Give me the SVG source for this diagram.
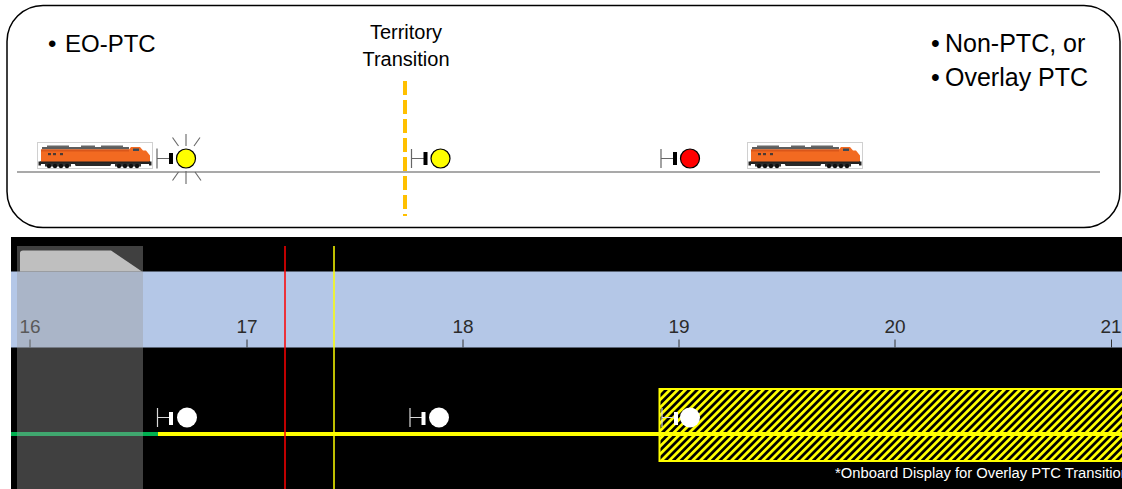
<svg xmlns="http://www.w3.org/2000/svg" xmlns:xlink="http://www.w3.org/1999/xlink" width="1122" height="489" viewBox="0 0 1122 489">
  <style>
    .lbl { font-family: "Liberation Sans", Arial, sans-serif; fill: #000; }
    .big { font-size: 24px; }
    .big2 { font-size: 25px; }
    .mid { font-size: 20px; }
    .axis { font-family: "Liberation Sans", Arial, sans-serif; font-size: 19px; fill: #2b2b2b; text-anchor: middle; }
    .tick { stroke: #333; stroke-width: 1; }
    .stem { stroke: #666; stroke-width: 1.2; fill: none; }
    .stem-w { stroke: #d8d8d8; stroke-width: 1.2; fill: none; }
    .ray { stroke: #666; stroke-width: 1.1; }
  </style>
  <defs>
    <!-- diesel locomotive side view, 116 x 27 -->
    <g id="loco">
      <rect x="0.5" y="0.5" width="115" height="26" fill="#fff" stroke="#d0d0d0"/>
      <rect x="10" y="3.5" width="22" height="2" fill="#666"/>
      <rect x="44" y="3.5" width="14" height="2" fill="#666"/>
      <rect x="64" y="3.5" width="22" height="2" fill="#666"/>
      <path d="M5 5 H92 V7.5 H5Z" fill="#5e5e5e"/>
      <path d="M4 7.5 H92 L94 5 H103 L106 8.5 H109 L113 13.5 V20 H4Z" fill="#F26A21"/>
      <path d="M4 7.5 H92 V9.5 H4Z" fill="#d9561a"/>
      <rect x="11" y="11" width="3" height="2.2" fill="#4a3a35"/>
      <rect x="16" y="11" width="3" height="2.2" fill="#4a3a35"/>
      <rect x="23" y="11" width="3" height="2.2" fill="#4a3a35"/>
      <rect x="96" y="6.5" width="6" height="2.5" fill="#3f4a55"/>
      <rect x="3" y="19.5" width="110" height="2.5" fill="#222"/>
      <rect x="38" y="21" width="36" height="3" rx="1.5" fill="#2a2a2a"/>
      <rect x="8" y="21.5" width="26" height="3" fill="#333"/>
      <rect x="78" y="21.5" width="26" height="3" fill="#333"/>
      <g fill="#111">
        <circle cx="12" cy="24" r="2.2"/><circle cx="18" cy="24" r="2.2"/>
        <circle cx="24" cy="24" r="2.2"/><circle cx="30" cy="24" r="2.2"/>
        <circle cx="82" cy="24" r="2.2"/><circle cx="88" cy="24" r="2.2"/>
        <circle cx="94" cy="24" r="2.2"/><circle cx="100" cy="24" r="2.2"/>
      </g>
      <rect x="1.5" y="19.5" width="2.5" height="4" fill="#222"/>
      <rect x="112" y="19.5" width="2.5" height="4" fill="#222"/>
    </g>
    <pattern id="hatch" width="5.5" height="5.5" patternUnits="userSpaceOnUse" patternTransform="rotate(45)">
      <rect width="5.5" height="5.5" fill="#000"/>
      <rect width="2.8" height="5.5" fill="#FFFF00"/>
    </pattern>
  </defs>

  <!-- upper panel: track overview -->
  <g id="overview">
    <rect x="7" y="5.5" width="1113" height="222" rx="36" ry="36" fill="#fff" stroke="#000" stroke-width="1.5"/>
    <line x1="17" y1="172" x2="1100" y2="172" stroke="#8c8c8c" stroke-width="1.5"/>
  </g>

  <g id="label-eo">
    <text class="lbl big" x="48" y="52">•</text>
    <text class="lbl big" x="65" y="52">EO-PTC</text>
  </g>
  <g id="label-non">
    <text class="lbl big2" x="931" y="52">•</text>
    <text class="lbl big2" x="945" y="52">Non-PTC, or</text>
    <text class="lbl big2" x="931" y="86">•</text>
    <text class="lbl big2" x="945" y="86">Overlay PTC</text>
  </g>
  <g id="transition">
    <text class="lbl mid" x="406" y="39" text-anchor="middle">Territory</text>
    <text class="lbl mid" x="406" y="66" text-anchor="middle">Transition</text>
    <line x1="405" y1="81" x2="405" y2="216" stroke="#FFC000" stroke-width="4" stroke-dasharray="14 5"/>
  </g>

  <g id="train-left"><use xlink:href="#loco" x="37" y="142"/></g>
  <g id="train-right"><use xlink:href="#loco" x="747" y="142"/></g>

  <g id="signal-1">
    <g class="ray">
      <line x1="186" y1="134" x2="186" y2="146"/>
      <line x1="186" y1="171" x2="186" y2="184"/>
      <line x1="172.5" y1="137.5" x2="178.5" y2="146"/>
      <line x1="200" y1="137.5" x2="194" y2="146"/>
      <line x1="172.5" y1="180.5" x2="178.5" y2="172"/>
      <line x1="201" y1="180.5" x2="195" y2="172"/>
    </g>
    <path class="stem" d="M157 148.5 V168.5 M157 158.5 H170"/>
    <rect x="169" y="153" width="4" height="11" fill="#000"/>
    <circle cx="186" cy="158.5" r="9.5" fill="#FFFF00" stroke="#000" stroke-width="1.2"/>
  </g>
  <g id="signal-2">
    <path class="stem" d="M411.5 149 V168 M411.5 158.5 H424.5"/>
    <rect x="423.5" y="152" width="4" height="13" fill="#000"/>
    <circle cx="440.5" cy="158.5" r="9.5" fill="#FFFF00" stroke="#000" stroke-width="1.2"/>
  </g>
  <g id="signal-3">
    <path class="stem" d="M661 149 V168 M661 158.5 H674"/>
    <rect x="673" y="152" width="4" height="13" fill="#000"/>
    <circle cx="690" cy="158.5" r="9.5" fill="#FF0000" stroke="#000" stroke-width="1.2"/>
  </g>

  <!-- lower panel: onboard display -->
  <g id="display">
    <rect x="11" y="237" width="1111" height="252" fill="#000"/>
    <rect x="11" y="271.5" width="1111" height="76" fill="#B4C7E7"/>
    <g id="axis">
      <text class="axis" x="30" y="333">16</text>
      <text class="axis" x="247" y="333">17</text>
      <text class="axis" x="463" y="333">18</text>
      <text class="axis" x="679" y="333">19</text>
      <text class="axis" x="895" y="333">20</text>
      <text class="axis" x="1111" y="333">21</text>
      <path class="tick" d="M30 339.5 V347.5 M247 339.5 V347.5 M463 339.5 V347.5 M679 339.5 V347.5 M895 339.5 V347.5 M1111.5 339.5 V347.5"/>
    </g>
    <rect id="overlay-zone" x="659.5" y="389" width="470" height="72" fill="url(#hatch)" stroke="#FFFF00" stroke-width="2"/>
  </g>

  <g id="connectors">
    <line x1="11" y1="434" x2="159" y2="434" stroke="#00B050" stroke-width="4"/>
    <line x1="158" y1="434" x2="1122" y2="434" stroke="#FFFF00" stroke-width="4"/>
    <line x1="285" y1="246" x2="285" y2="489" stroke="#FF0000" stroke-width="1.5"/>
    <line x1="334" y1="246" x2="334" y2="489" stroke="#FFFF00" stroke-width="1.5"/>
  </g>

  <g id="display-signal-1">
    <path class="stem-w" d="M157.5 408 V427 M157.5 417.5 H170"/>
    <rect x="169" y="412" width="4" height="13" fill="#fff"/>
    <circle cx="187" cy="417.5" r="10" fill="#fff"/>
  </g>
  <g id="display-signal-2">
    <path class="stem-w" d="M410 408 V427 M410 417.5 H422.5"/>
    <rect x="421.5" y="412" width="4" height="13" fill="#fff"/>
    <circle cx="439" cy="417.5" r="10" fill="#fff"/>
  </g>
  <g id="display-signal-3">
    <path class="stem-w" d="M662 408 V427 M662 417.5 H674"/>
    <rect x="674" y="412" width="4" height="13" fill="#fff"/>
    <circle cx="690" cy="417.5" r="10" fill="#fff"/>
  </g>

  <g id="train-marker">
    <path d="M20 253 Q20 250.5 23 250.5 H111 L142 271.5 H20 Z" fill="#D9D9D9"/>
    <rect x="17" y="246" width="126" height="243" fill="#9c9c9c" fill-opacity="0.41"/>
  </g>

  <text id="caption" x="835" y="478" font-family="Liberation Sans, Arial, sans-serif" font-size="14" fill="#fff" textLength="294" lengthAdjust="spacingAndGlyphs">*Onboard Display for Overlay PTC Transition</text>
</svg>
